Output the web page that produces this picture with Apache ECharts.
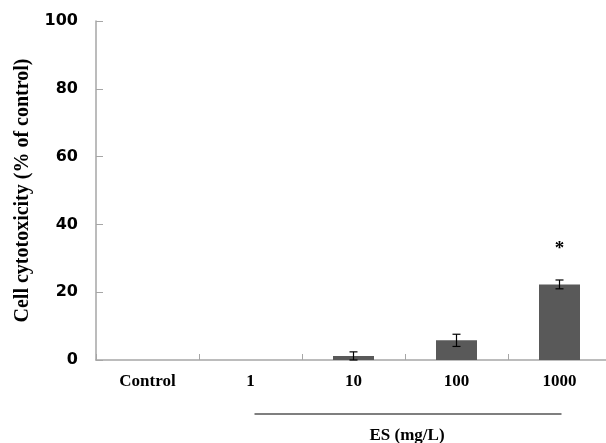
<!DOCTYPE html>
<html>
<head>
<meta charset="utf-8">
<script src="https://cdn.jsdelivr.net/npm/echarts@6/dist/echarts.min.js"></script>
<style>html,body{margin:0;padding:0;background:#fff;}#c{width:606px;height:443px;}</style>
</head>
<body>
<div id="c"></div>
<script>
const categories = ['Control', '1', '10', '100', '1000'];
const values = [0, 0, 1.2, 5.8, 22.3];
const errors = [0, 0, 1.2, 1.8, 1.3];
const marks = ['', '', '', '', '*'];
const yTicks = [0, 20, 40, 60, 80, 100];

const chart = echarts.init(document.getElementById('c'));
const serif = '"Liberation Serif", "Times New Roman", serif';
const axisGray = '#a6a6a6';

chart.setOption({
  animation: false,
  grid: { left: 96, top: 21, width: 515, height: 339, containLabel: false, outerBoundsMode: 'none' },
  xAxis: {
    type: 'category',
    data: categories,
    axisLine: { lineStyle: { color: axisGray, width: 1.5 } },
    axisTick: { show: true, inside: true, length: 6, lineStyle: { color: axisGray } },
    axisLabel: { color: '#000', fontFamily: serif, fontWeight: 'bold', fontSize: 17, margin: 13 },
    splitLine: { show: false }
  },
  yAxis: {
    type: 'value',
    min: yTicks[0], max: yTicks[yTicks.length - 1], interval: 20,
    name: 'Cell cytotoxicity (% of control)',
    nameLocation: 'middle',
    nameGap: 63,
    nameRotate: 90,
    nameTextStyle: { color: '#000', fontFamily: serif, fontWeight: 'bold', fontSize: 20 },
    axisLine: { show: true, lineStyle: { color: axisGray, width: 1.5 } },
    axisTick: { show: true, inside: true, length: 7, lineStyle: { color: axisGray } },
    axisLabel: { color: '#000', fontFamily: '"DejaVu Sans", sans-serif', fontWeight: 'bold', fontSize: 16, margin: 18 },
    splitLine: { show: false }
  },
  series: [
    {
      type: 'bar',
      data: values,
      barWidth: 41,
      itemStyle: { color: '#595959' },
      z: 2
    },
    {
      type: 'custom',
      data: values.map((v, i) => [i, v, errors[i], marks[i]]),
      z: 3,
      renderItem: function (params, api) {
        const i = api.value(0), v = api.value(1), e = api.value(2);
        const children = [];
        if (e > 0) {
          const hi = api.coord([i, v + e]);
          const lo = api.coord([i, v - e]);
          const cw = 4;
          const st = { stroke: '#000', lineWidth: 1.2 };
          children.push({ type: 'line', shape: { x1: hi[0], y1: hi[1], x2: lo[0], y2: lo[1] }, style: st });
          children.push({ type: 'line', shape: { x1: hi[0] - cw, y1: hi[1], x2: hi[0] + cw, y2: hi[1] }, style: st });
          children.push({ type: 'line', shape: { x1: lo[0] - cw, y1: lo[1], x2: lo[0] + cw, y2: lo[1] }, style: st });
        }
        const m = marks[i];
        if (m) {
          const p = api.coord([i, v + e]);
          children.push({ type: 'text', style: { text: m, x: p[0], y: p[1] - 31, align: 'center', verticalAlign: 'middle', fill: '#000', font: 'bold 19px ' + serif } });
        }
        return { type: 'group', children: children };
      }
    }
  ]
});

function drawGroupLabel() {
  const a = chart.convertToPixel({ xAxisIndex: 0 }, categories[1]);
  const b = chart.convertToPixel({ xAxisIndex: 0 }, categories[4]);
  const y0 = chart.convertToPixel({ yAxisIndex: 0 }, 0);
  const ly = y0 + 54;
  chart.setOption({
    graphic: [
      { type: 'line', shape: { x1: a + 4, y1: ly, x2: b + 2, y2: ly }, style: { stroke: '#000', lineWidth: 1.2 } },
      { type: 'text', style: { text: 'ES (mg/L)', x: (a + b) / 2 + 2, y: ly + 22, align: 'center', verticalAlign: 'middle', fill: '#000', font: 'bold 17px ' + serif } }
    ]
  });
}
drawGroupLabel();
</script>
</body>
</html>
